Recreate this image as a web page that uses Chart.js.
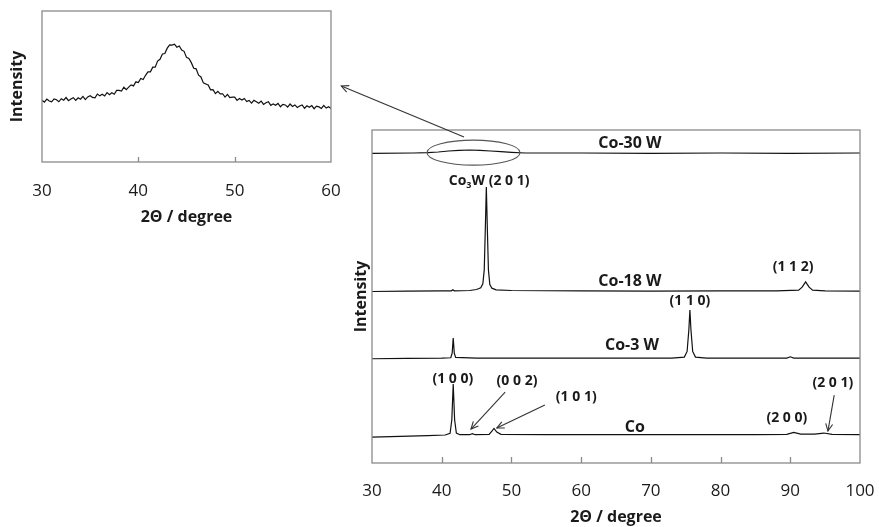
<!DOCTYPE html>
<html><head><meta charset="utf-8">
<script src="https://cdn.jsdelivr.net/npm/chart.js@4.4.0/dist/chart.umd.min.js"></script>
<style>
html,body{margin:0;padding:0;background:#fff;}
#wrap{position:relative;width:879px;height:527px;overflow:hidden;background:#fff;}
#main,#inset{position:absolute;left:0;top:0;}
</style></head><body>
<div id="wrap"><canvas id="main" width="879" height="527"></canvas><canvas id="inset" width="345" height="230"></canvas></div>
<script>
// ---------- DATA ----------
const mainTicks = [30, 40, 50, 60, 70, 80, 90, 100];
const insetTicks = [30, 40, 50, 60];

const co30wAngle = [30, 36, 38, 39.5, 41, 42.5, 44, 45.5, 47, 48.5, 50, 52, 55, 60, 70, 80, 90, 100];
const co30wIntensity = [93.0, 93.1, 93.2, 93.4, 93.7, 93.9, 94.0, 93.9, 93.7, 93.5, 93.3, 93.1, 93.1, 93.1, 93.0, 93.1, 93.0, 93.1];

const co18wAngle = [30, 35, 40, 41.4, 41.6, 41.8, 44, 45, 45.6, 45.9, 46.1, 46.25, 46.4, 46.55, 46.7, 46.9, 47.2, 47.8, 50, 60, 70, 80, 88, 91.2, 91.7, 92.2, 92.7, 93.2, 95, 100];
const co18wIntensity = [51.5, 51.6, 51.7, 51.7, 52.0, 51.7, 51.8, 52.1, 52.6, 53.8, 58, 70, 82.9, 70, 58, 53.6, 52.5, 52.0, 51.8, 51.7, 51.6, 51.7, 51.7, 51.9, 52.8, 54.4, 52.8, 51.9, 51.7, 51.6];

const co3wAngle = [30, 35, 40, 41.3, 41.5, 41.65, 41.8, 42.0, 45, 55, 65, 73, 74.8, 75.2, 75.45, 75.6, 75.75, 76.0, 76.4, 78, 89.5, 90, 90.5, 100];
const co3wIntensity = [31.3, 31.4, 31.5, 31.6, 33, 37.5, 33, 31.7, 31.5, 31.5, 31.5, 31.5, 31.8, 33.5, 40, 45.9, 40, 33.5, 31.8, 31.5, 31.5, 31.9, 31.5, 31.5];

const coAngle = [30, 34, 38, 40.5, 41.2, 41.45, 41.65, 41.85, 42.1, 42.6, 44.0, 44.4, 44.8, 46.8, 47.2, 47.5, 47.9, 48.5, 55, 65, 75, 85, 89.5, 90.5, 91.5, 93.5, 94.8, 96, 100];
const coIntensity = [7.8, 8.0, 8.2, 8.4, 8.9, 13, 23.7, 13, 9.0, 8.5, 8.5, 8.8, 8.5, 8.6, 9.6, 10.4, 9.3, 8.6, 8.5, 8.5, 8.5, 8.5, 8.6, 9.2, 8.7, 8.7, 9.0, 8.6, 8.5];

const insetAngle = [30.00,30.25,30.50,30.75,31.00,31.25,31.50,31.75,32.00,32.25,32.50,32.75,33.00,33.25,33.50,33.75,34.00,34.25,34.50,34.75,
35.00,35.25,35.50,35.75,36.00,36.25,36.50,36.75,37.00,37.25,37.50,37.75,38.00,38.25,38.50,38.75,39.00,39.25,39.50,39.75,
40.00,40.25,40.50,40.75,41.00,41.25,41.50,41.75,42.00,42.25,42.50,42.75,43.00,43.25,43.50,43.75,44.00,44.25,44.50,44.75,
45.00,45.25,45.50,45.75,46.00,46.25,46.50,46.75,47.00,47.25,47.50,47.75,48.00,48.25,48.50,48.75,49.00,49.25,49.50,49.75,
50.00,50.25,50.50,50.75,51.00,51.25,51.50,51.75,52.00,52.25,52.50,52.75,53.00,53.25,53.50,53.75,54.00,54.25,54.50,54.75,
55.00,55.25,55.50,55.75,56.00,56.25,56.50,56.75,57.00,57.25,57.50,57.75,58.00,58.25,58.50,58.75,59.00,59.25,59.50,59.75,60.00];
const insetIntensity = [40.9,39.7,41.7,40.4,39.8,41.8,41.2,39.9,41.9,40.9,
42.7,40.6,41.7,42.6,40.8,42.5,41.6,43.4,41.3,43.1,
43.9,42.8,42.5,45.0,43.8,44.9,43.7,46.0,44.5,45.9,
44.9,47.4,47.4,47.0,49.5,47.9,49.6,51.1,50.4,53.1,
52.6,55.3,54.6,57.4,59.7,59.7,62.8,62.8,66.8,68.0,
71.5,71.8,75.4,77.6,77.4,78.0,76.0,76.8,74.2,73.3,
69.3,68.6,65.8,62.1,61.7,57.5,56.3,52.4,51.7,51.0,
47.8,47.9,45.3,46.8,45.1,45.2,43.0,44.8,42.6,42.9,
43.0,40.8,42.1,41.1,42.1,40.0,40.8,39.0,40.9,39.9,
38.9,40.3,38.1,39.2,39.9,37.5,38.5,37.6,38.8,36.6,
38.2,37.8,36.4,38.4,36.8,37.8,36.1,37.1,37.8,35.6,
37.2,36.3,37.4,35.3,37.0,36.5,35.5,37.5,35.7,36.6,35.5];

// ---------- ANNOTATIONS (data units) ----------
const seriesLabels = [
  {text: 'Co-30 W', x: 67.0, y: 96.1},
  {text: 'Co-18 W', x: 67.0, y: 54.6},
  {text: 'Co-3 W', x: 67.3, y: 35.4},
  {text: 'Co', x: 67.7, y: 10.8}
];
const peakLabels = [
  {text: '(1 1 2)', x: 90.4, y: 58.9},
  {text: '(1 1 0)', x: 75.6, y: 48.6},
  {text: '(1 0 0)', x: 41.6, y: 25.2},
  {text: '(0 0 2)', x: 50.8, y: 24.6},
  {text: '(1 0 1)', x: 59.3, y: 19.8},
  {text: '(2 0 0)', x: 89.5, y: 13.5},
  {text: '(2 0 1)', x: 96.1, y: 24.0}
];
const co3wLabel = {x: 46.8, y: 84.7};
const arrows = [
  {x1: 49.1, y1: 21.3, x2: 44.2, y2: 10.2},
  {x1: 54.8, y1: 17.4, x2: 47.9, y2: 10.5},
  {x1: 96.3, y1: 20.4, x2: 95.4, y2: 9.6},
  {x1: 43.2, y1: 97.9, x2: 25.6, y2: 113.2}
];
const ellipse = {x: 44.56, y: 93.2, rx: 6.67, ry: 3.75};

// ---------- RENDER ----------
const FONT = "'Open Sans', 'Liberation Sans', sans-serif";
const TXT = '#1a1a1a';
const BOX = '#8a8a8a';
Chart.defaults.font.family = FONT;

function pts(xs, ys) { return xs.map((a, i) => ({x: a, y: ys[i]})); }

function drawArrow(ctx, x1, y1, x2, y2) {
  ctx.beginPath(); ctx.moveTo(x1, y1); ctx.lineTo(x2, y2); ctx.stroke();
  const ang = Math.atan2(y2 - y1, x2 - x1), L = 8, a = 0.45;
  ctx.beginPath();
  ctx.moveTo(x2 - L * Math.cos(ang - a), y2 - L * Math.sin(ang - a));
  ctx.lineTo(x2, y2);
  ctx.lineTo(x2 - L * Math.cos(ang + a), y2 - L * Math.sin(ang + a));
  ctx.stroke();
}

function boxAndTicks(chart, tickVals, len) {
  const {ctx, chartArea: ca, scales} = chart;
  ctx.save();
  ctx.strokeStyle = BOX; ctx.lineWidth = 1.3;
  ctx.strokeRect(ca.left, ca.top, ca.right - ca.left, ca.bottom - ca.top);
  ctx.beginPath();
  tickVals.forEach(v => {
    if (v <= scales.x.min || v >= scales.x.max) return;
    const px = Math.round(scales.x.getPixelForValue(v)) + 0.5;
    ctx.moveTo(px, ca.bottom); ctx.lineTo(px, ca.bottom - len);
  });
  ctx.stroke();
  ctx.restore();
}

const mainDecor = {
  id: 'mainDecor',
  afterDatasetsDraw(chart) {
    const {ctx, scales} = chart;
    const X = v => scales.x.getPixelForValue(v), Y = v => scales.y.getPixelForValue(v);
    boxAndTicks(chart, mainTicks, 6);
    ctx.save();
    // ellipse
    ctx.strokeStyle = '#555'; ctx.lineWidth = 1.1;
    const cx = X(ellipse.x), cy = Y(ellipse.y);
    const rx = X(ellipse.x + ellipse.rx) - cx, ry = cy - Y(ellipse.y + ellipse.ry);
    ctx.beginPath(); ctx.ellipse(cx, cy, rx, ry, 0, 0, Math.PI * 2); ctx.stroke();
    // arrows
    ctx.strokeStyle = '#333'; ctx.lineWidth = 1.1;
    arrows.forEach(a => drawArrow(ctx, X(a.x1), Y(a.y1), X(a.x2), Y(a.y2)));
    // labels
    ctx.fillStyle = TXT; ctx.textAlign = 'center'; ctx.textBaseline = 'middle';
    ctx.font = 'bold 16px ' + FONT;
    seriesLabels.forEach(l => ctx.fillText(l.text, X(l.x), Y(l.y)));
    ctx.font = 'bold 14px ' + FONT;
    peakLabels.forEach(l => ctx.fillText(l.text, X(l.x), Y(l.y)));
    // Co3W (2 0 1) with subscript
    const f1 = 'bold 14px ' + FONT, f2 = 'bold 9px ' + FONT;
    const p1 = 'Co', p2 = '3', p3 = 'W (2 0 1)';
    ctx.font = f1; const w1 = ctx.measureText(p1).width, w3 = ctx.measureText(p3).width;
    ctx.font = f2; const w2 = ctx.measureText(p2).width;
    let sx = X(co3wLabel.x) - (w1 + w2 + w3) / 2; const sy = Y(co3wLabel.y);
    ctx.textAlign = 'left';
    ctx.font = f1; ctx.fillText(p1, sx, sy); sx += w1;
    ctx.font = f2; ctx.fillText(p2, sx, sy + 4); sx += w2;
    ctx.font = f1; ctx.fillText(p3, sx, sy);
    ctx.restore();
  }
};

const insetDecor = {
  id: 'insetDecor',
  afterDatasetsDraw(chart) { boxAndTicks(chart, insetTicks, 5); }
};

const lineStyle = {borderColor: '#111', borderWidth: 1.2, pointRadius: 0, tension: 0, fill: false};

function fixX(h) { return function (s) { s.height = h; s.paddingLeft = 0; s.paddingRight = 0; }; }

new Chart(document.getElementById('main'), {
  type: 'line',
  data: {datasets: [
    Object.assign({label: 'Co-30 W', data: pts(co30wAngle, co30wIntensity)}, lineStyle),
    Object.assign({label: 'Co-18 W', data: pts(co18wAngle, co18wIntensity)}, lineStyle),
    Object.assign({label: 'Co-3 W', data: pts(co3wAngle, co3wIntensity)}, lineStyle),
    Object.assign({label: 'Co', data: pts(coAngle, coIntensity)}, lineStyle)
  ]},
  options: {
    responsive: false, animation: false, devicePixelRatio: 1,
    layout: {padding: {left: 352, top: 130, right: 19, bottom: 0}},
    plugins: {legend: {display: false}, tooltip: {enabled: false}},
    scales: {
      x: {type: 'linear', min: 30, max: 100,
        afterBuildTicks(s) { s.ticks = mainTicks.map(v => ({value: v})); },
        ticks: {padding: 18, color: TXT, font: {size: 17}, maxRotation: 0},
        grid: {display: false, drawTicks: false}, border: {display: false},
        title: {display: true, text: '2Θ / degree', color: TXT, font: {size: 16, weight: 'bold'}, padding: {top: 0, bottom: 0}},
        afterFit: fixX(64)},
      y: {min: 0, max: 100,
        ticks: {display: false}, grid: {display: false, drawTicks: false}, border: {display: false},
        title: {display: true, text: 'Intensity', color: TXT, font: {size: 16, weight: 'bold'}, padding: {top: 0, bottom: 0}},
        afterFit(s) { s.width = 20; }}
    }
  },
  plugins: [mainDecor]
});

new Chart(document.getElementById('inset'), {
  type: 'line',
  data: {datasets: [
    Object.assign({label: 'Co-30 W (inset)', data: pts(insetAngle, insetIntensity)}, lineStyle)
  ]},
  options: {
    responsive: false, animation: false, devicePixelRatio: 1,
    layout: {padding: {left: 8, top: 11, right: 14, bottom: 0}},
    plugins: {legend: {display: false}, tooltip: {enabled: false}},
    scales: {
      x: {type: 'linear', min: 30, max: 60,
        afterBuildTicks(s) { s.ticks = insetTicks.map(v => ({value: v})); },
        ticks: {padding: 19, color: TXT, font: {size: 17}, maxRotation: 0},
        grid: {display: false, drawTicks: false}, border: {display: false},
        title: {display: true, text: '2Θ / degree', color: TXT, font: {size: 16, weight: 'bold'}, padding: {top: 0, bottom: 3}},
        afterFit: fixX(68)},
      y: {min: 0, max: 100,
        ticks: {display: false}, grid: {display: false, drawTicks: false}, border: {display: false},
        title: {display: true, text: 'Intensity', color: TXT, font: {size: 16, weight: 'bold'}, padding: {top: 0, bottom: 0}},
        afterFit(s) { s.width = 34; }}
    }
  },
  plugins: [insetDecor]
});
</script>
</body></html>
